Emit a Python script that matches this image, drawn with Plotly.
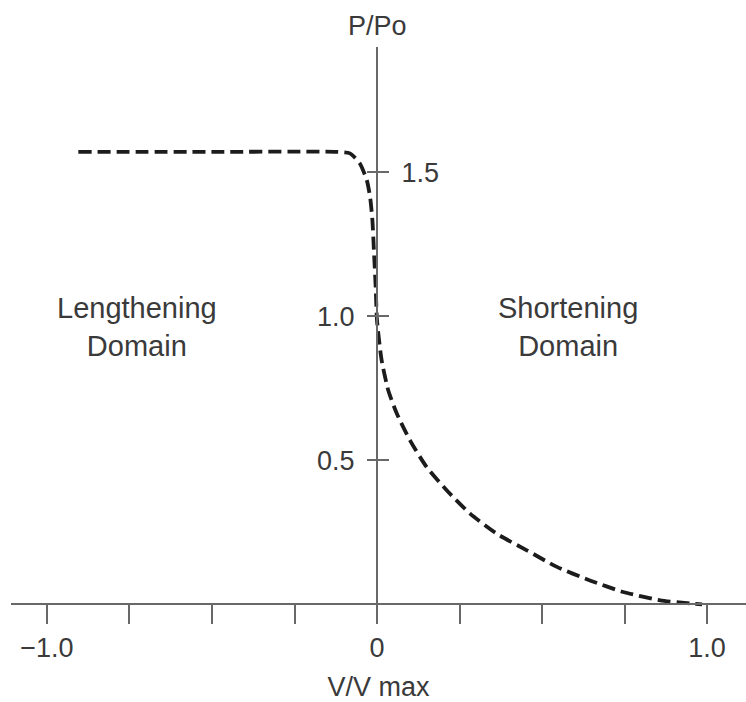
import plotly.graph_objects as go

# Force–velocity relation (relative velocity vs relative force)
v_rel = [-0.905, -0.5, -0.122, -0.082, -0.052, -0.031, -0.021, -0.014, -0.009, -0.004,
         0.0, 0.014, 0.034, 0.06, 0.1, 0.15, 0.211, 0.282, 0.363, 0.454, 0.545,
         0.645, 0.746, 0.858, 0.94, 0.985]
p_rel = [1.57, 1.57, 1.57, 1.565, 1.53, 1.472, 1.414, 1.333, 1.218, 1.10,
         0.985, 0.847, 0.743, 0.662, 0.569, 0.477, 0.396, 0.315, 0.245, 0.1875, 0.13,
         0.083, 0.043, 0.014, 0.004, 0.0]

x_ticks = [-1.0, -0.75, -0.5, -0.25, 0.0, 0.25, 0.5, 0.75, 1.0]
x_tick_text = ["\u22121.0", "", "", "", "0", "", "", "", "1.0"]
y_ticks = [0.5, 1.0, 1.5]
y_left_text = ["0.5", "1.0", ""]
y_right_text = ["", "", "1.5"]

domain_labels = ["Lengthening<br>Domain", "Shortening<br>Domain"]
domain_x = [-0.727, 0.58]
domain_y = [0.962, 0.962]

AXIS = "#686868"
TEXT = "#3a3a3a"
FONT = "Liberation Sans, Arial, sans-serif"

x_range = [-1.109, 1.118]
y_range = [-0.03, 1.934]
y_axis_pos = -x_range[0] / (x_range[1] - x_range[0])
x_axis_pos = -y_range[0] / (y_range[1] - y_range[0])

fig = go.Figure()
fig.add_trace(go.Scatter(
    x=v_rel, y=p_rel, mode="lines",
    line=dict(color="#1c1c1c", width=3.8, dash="13px,6px", shape="spline", smoothing=0.6),
    hoverinfo="skip", showlegend=False,
))
# invisible trace so the right-hand y axis is drawn
fig.add_trace(go.Scatter(x=[0], y=[0], yaxis="y2", mode="markers",
                         marker=dict(opacity=0), hoverinfo="skip", showlegend=False))

for txt, xv, yv in zip(domain_labels, domain_x, domain_y):
    fig.add_annotation(x=xv, y=yv, xref="x", yref="y", text=txt, showarrow=False,
                       font=dict(family=FONT, size=29, color=TEXT),
                       xanchor="center", yanchor="middle")

fig.add_annotation(x=0, y=1.037, xref="x", yref="paper", text="P/Po", showarrow=False,
                   font=dict(family=FONT, size=27, color=TEXT),
                   xanchor="center", yanchor="middle")

fig.update_layout(
    width=746, height=702,
    margin=dict(l=11, r=0, t=47, b=89),
    paper_bgcolor="white", plot_bgcolor="white",
    font=dict(family=FONT, color=TEXT),
    xaxis=dict(
        range=x_range, anchor="free", position=x_axis_pos,
        showline=True, linecolor=AXIS, linewidth=2,
        showgrid=False, zeroline=False,
        tickmode="array", tickvals=x_ticks, ticktext=x_tick_text,
        ticks="outside", ticklen=19, tickwidth=2, tickcolor=AXIS,
        tickfont=dict(family=FONT, size=27, color=TEXT),
        title=dict(text="V/V max", font=dict(family=FONT, size=27, color=TEXT), standoff=14),
    ),
    yaxis=dict(
        range=y_range, anchor="free", position=y_axis_pos, side="left",
        showline=True, linecolor=AXIS, linewidth=2,
        showgrid=False, zeroline=False,
        tickmode="array", tickvals=y_ticks, ticktext=y_left_text,
        ticks="outside", ticklen=9, tickwidth=2, tickcolor=AXIS,
        ticklabelstandoff=7,
        tickfont=dict(family=FONT, size=27, color=TEXT),
    ),
    yaxis2=dict(
        range=y_range, anchor="free", position=y_axis_pos, side="right",
        overlaying="y", showline=False,
        showgrid=False, zeroline=False,
        tickmode="array", tickvals=y_ticks, ticktext=y_right_text,
        ticks="outside", ticklen=11, tickwidth=2, tickcolor=AXIS,
        ticklabelstandoff=7,
        tickfont=dict(family=FONT, size=27, color=TEXT),
    ),
)

fig.write_html("out.html")
